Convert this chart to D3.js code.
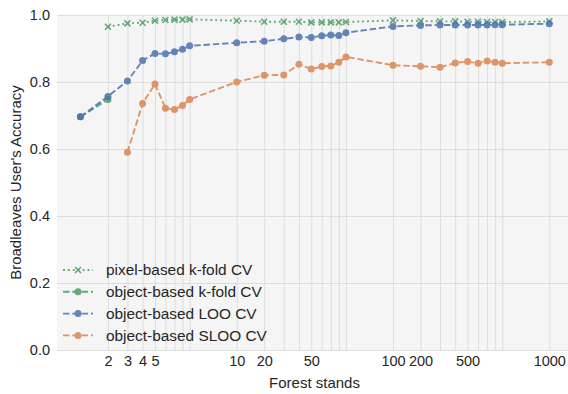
<!DOCTYPE html>
<html>
<head>
<meta charset="utf-8">
<script src="https://cdn.jsdelivr.net/npm/d3@7"></script>
<style>
  body { margin: 0; background: #fff; }
  text { font-family: "Liberation Sans", Arial, sans-serif; fill: #262626; }
</style>
</head>
<body>
<div id="my_dataviz"></div>
<script>
// number of stands (x) and accuracy for each series, null = no point
var xVals = [1, 1.5, 2, 2.5, 3, 3.5, 4, 4.5, 5, 10, 15, 20, 25, 30, 35, 40, 45, 50,
             100, 150, 200, 250, 300, 350, 400, 450, 500, 1000];

var pixelKfold = [null, 0.965, 0.975, 0.977, 0.983, 0.985, 0.986, 0.986, 0.987, 0.983,
                  0.980, 0.980, 0.980, 0.978, 0.978, 0.978, 0.978, 0.979,
                  0.984, 0.982, 0.981, 0.981, 0.980, 0.980, 0.979, 0.979, 0.979, 0.981];
var objectKfold = [0.696, 0.748, null, null, null, null, null, null, null, null,
                   null, null, null, null, null, null, null, null,
                   null, null, null, null, null, null, null, null, null, null];
var objectLoo = [0.696, 0.757, 0.803, 0.864, 0.885, 0.884, 0.890, 0.898, 0.908, 0.917,
                 0.922, 0.929, 0.934, 0.933, 0.938, 0.940, 0.939, 0.947,
                 0.966, 0.969, 0.970, 0.970, 0.970, 0.970, 0.970, 0.971, 0.971, 0.974];
var objectSloo = [null, null, 0.590, 0.736, 0.794, 0.722, 0.718, 0.730, 0.748, 0.800,
                  0.820, 0.821, 0.853, 0.839, 0.846, 0.848, 0.859, 0.875,
                  0.850, 0.847, 0.844, 0.857, 0.861, 0.856, 0.863, 0.859, 0.856, 0.859];

// tick labels on the x axis and where they sit
var xTickVals = [1.5, 2, 2.5, 3, 10, 15, 30, 100, 150, 300, 1000];
var xTickLabels = ["2", "3", "4", "5", "10", "20", "50", "100", "200", "500", "1000"];
var yTickVals = [0, 0.2, 0.4, 0.6, 0.8, 1.0];

var seriesNames = ["pixel-based k-fold CV", "object-based k-fold CV", "object-based LOO CV", "object-based SLOO CV"];
var seriesData = [pixelKfold, objectKfold, objectLoo, objectSloo];
var seriesColors = ["#4a9c64", "#4a9c64", "#4c72b0", "#dd8452"];

var width = 568, height = 394;
var plot = {left: 57, right: 574, top: 15, bottom: 350};

var svg = d3.select("#my_dataviz")
  .append("svg")
    .attr("width", width)
    .attr("height", height);

var x = d3.scaleLog().domain([1, 1000]).range([80.4, 549.3]);
var y = d3.scaleLinear().domain([0, 1]).range([plot.bottom, plot.top]);

// background
svg.append("rect")
  .attr("x", plot.left)
  .attr("y", plot.top)
  .attr("width", plot.right - plot.left)
  .attr("height", plot.bottom - plot.top)
  .attr("fill", "#f5f5f5");

// grid lines
svg.append("g")
  .attr("transform", "translate(0," + plot.bottom + ")")
  .call(d3.axisBottom(x).tickValues(xVals.slice(1)).tickSize(-(plot.bottom - plot.top)).tickFormat(""))
  .call(function(g) { g.select(".domain").remove(); })
  .selectAll("line").attr("stroke", "#dddddd").attr("stroke-width", 1);

svg.append("g")
  .attr("transform", "translate(" + plot.left + ",0)")
  .call(d3.axisLeft(y).tickValues(yTickVals).tickSize(-(plot.right - plot.left)).tickFormat(""))
  .call(function(g) { g.select(".domain").remove(); })
  .selectAll("line").attr("stroke", "#dddddd").attr("stroke-width", 1);

// axis labels
var xAxis = svg.append("g")
  .attr("transform", "translate(0," + plot.bottom + ")")
  .call(d3.axisBottom(x).tickValues(xTickVals).tickSize(0).tickPadding(6)
    .tickFormat(function(d, i) { return xTickLabels[i]; }));
xAxis.select(".domain").remove();
xAxis.selectAll("text").style("font-size", "14.5px").attr("fill", "#262626");

var yAxis = svg.append("g")
  .attr("transform", "translate(" + plot.left + ",0)")
  .call(d3.axisLeft(y).tickValues(yTickVals).tickSize(0).tickPadding(7).tickFormat(d3.format(".1f")));
yAxis.select(".domain").remove();
yAxis.selectAll("text").style("font-size", "14.5px").attr("fill", "#262626");

svg.append("text")
  .attr("x", (plot.left + 568) / 2 + 2)
  .attr("y", 388)
  .attr("text-anchor", "middle")
  .style("font-size", "15px")
  .text("Forest stands");

svg.append("text")
  .attr("transform", "translate(21," + ((plot.top + plot.bottom) / 2) + ") rotate(-90)")
  .attr("text-anchor", "middle")
  .style("font-size", "15px")
  .text("Broadleaves User's Accuracy");

// lines + markers
var line = d3.line()
  .defined(function(d) { return d.y != null; })
  .x(function(d) { return x(d.x); })
  .y(function(d) { return y(d.y); });

var xMarker = "M-3,-3L3,3M-3,3L3,-3";

seriesData.forEach(function(vals, s) {
  var pts = xVals.map(function(xv, i) { return {x: xv, y: vals[i]}; })
    .filter(function(d) { return d.y != null; });
  var g = svg.append("g").attr("opacity", 0.85);
  g.append("path")
    .datum(pts)
    .attr("d", line)
    .attr("fill", "none")
    .attr("stroke", seriesColors[s])
    .attr("stroke-width", 1.9)
    .attr("stroke-dasharray", s == 0 ? "1.9,3" : "6.5,2.8");
  if (s == 0) {
    g.selectAll(".mk").data(pts).enter().append("path")
      .attr("d", xMarker)
      .attr("transform", function(d) { return "translate(" + x(d.x) + "," + y(d.y) + ")"; })
      .attr("stroke", seriesColors[s])
      .attr("stroke-width", 1.6)
      .attr("fill", "none");
  } else {
    g.selectAll(".mk").data(pts).enter().append("circle")
      .attr("cx", function(d) { return x(d.x); })
      .attr("cy", function(d) { return y(d.y); })
      .attr("r", 3.5)
      .attr("fill", seriesColors[s]);
  }
});

// legend
var legend = svg.append("g").attr("transform", "translate(63,270)");
seriesNames.forEach(function(name, s) {
  var row = legend.append("g").attr("transform", "translate(0," + (s * 21.8) + ")").attr("opacity", 0.85);
  row.append("line")
    .attr("x1", 0).attr("x2", 30).attr("y1", 0).attr("y2", 0)
    .attr("stroke", seriesColors[s])
    .attr("stroke-width", 1.9)
    .attr("stroke-dasharray", s == 0 ? "1.9,3" : "6.5,2.8");
  if (s == 0) {
    row.append("path").attr("d", xMarker).attr("transform", "translate(15,0)")
      .attr("stroke", seriesColors[s]).attr("stroke-width", 1.6).attr("fill", "none");
  } else {
    row.append("circle").attr("cx", 15).attr("cy", 0).attr("r", 3.5).attr("fill", seriesColors[s]);
  }
  legend.append("text")
    .attr("x", 43)
    .attr("y", s * 21.8)
    .attr("dy", "0.35em")
    .style("font-size", "15.4px")
    .text(name);
});
</script>
</body>
</html>
